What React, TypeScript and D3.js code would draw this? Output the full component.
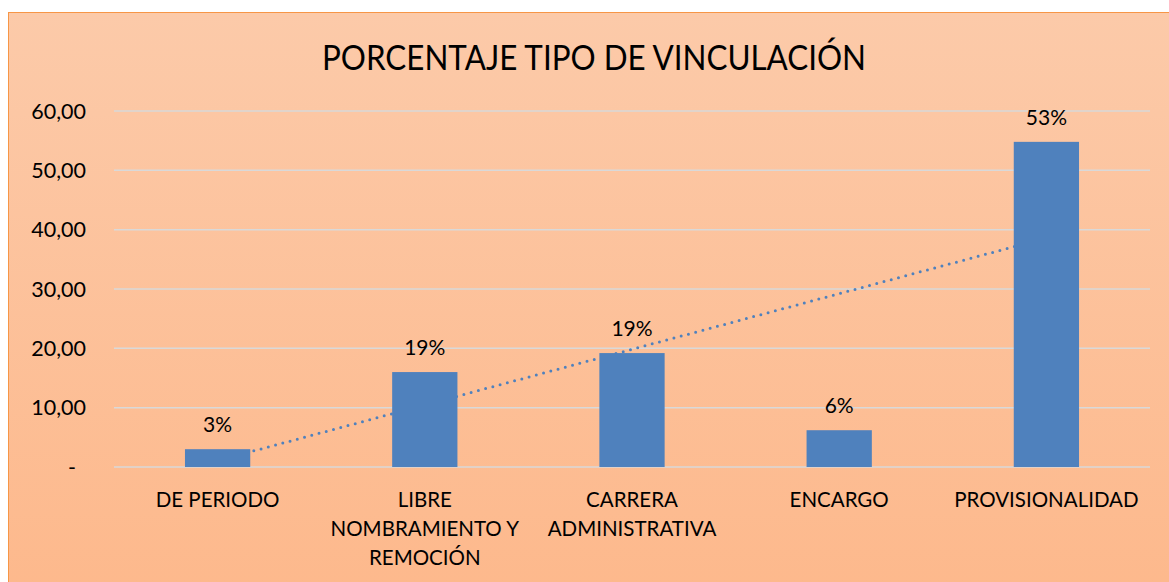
import React from "react";
import * as d3 from "d3";

const categories: string[][] = [
  ["DE PERIODO"],
  ["LIBRE", "NOMBRAMIENTO Y", "REMOCIÓN"],
  ["CARRERA", "ADMINISTRATIVA"],
  ["ENCARGO"],
  ["PROVISIONALIDAD"],
];
const values: number[] = [3.0, 16.0, 19.2, 6.2, 54.8];
const dataLabels: string[] = ["3%", "19%", "19%", "6%", "53%"];
const yTicks: number[] = [0, 10, 20, 30, 40, 50, 60];
const title = "PORCENTAJE TIPO DE VINCULACIÓN";

const W = 1169;
const H = 582;
const FONT = "Lato, 'Open Sans', sans-serif";

export default function App() {
  const plotLeft = 114;
  const plotRight = 1150;
  const y = d3.scaleLinear().domain([0, 60]).range([467, 111]);
  const x = d3
    .scaleBand<number>()
    .domain(values.map((_, i) => i))
    .range([plotLeft, plotRight])
    .paddingInner(0.685)
    .paddingOuter(0.3425);
  const bw = x.bandwidth();
  const cx = (i: number) => (x(i) as number) + bw / 2;

  // linear trendline (least squares) over category index
  const n = values.length;
  const xs = values.map((_, i) => i + 1);
  const mx = d3.mean(xs) as number;
  const my = d3.mean(values) as number;
  const slope =
    d3.sum(xs.map((xi, i) => (xi - mx) * (values[i] - my))) /
    d3.sum(xs.map((xi) => (xi - mx) ** 2));
  const intercept = my - slope * mx;
  const trendPts: [number, number][] = [
    [cx(0), y(intercept + slope * 1)],
    [cx(n - 1), y(intercept + slope * n)],
  ];
  const line = d3.line();

  const fmt = (v: number) => (v === 0 ? "-" : d3.format(".2f")(v).replace(".", ","));

  return (
    <svg
      width={W}
      height={H}
      style={{ position: "absolute", left: 0, top: 0, background: "#fff" }}
    >
      <defs>
        <linearGradient id="bg" x1="0" y1="0" x2="0" y2="1">
          <stop offset="0%" stopColor="#FCCAA9" />
          <stop offset="100%" stopColor="#FDB88B" />
        </linearGradient>
      </defs>
      <rect x={8.5} y={12.5} width={1200} height={600} fill="url(#bg)" stroke="#F79646" strokeWidth={1} />
      <text
        x={594}
        y={70}
        textAnchor="middle"
        fontFamily={FONT}
        fontSize={35}
        fill="#000"
        textLength={544}
        lengthAdjust="spacingAndGlyphs"
      >
        {title}
      </text>
      {yTicks.map((t) => (
        <g key={t}>
          <line x1={plotLeft} x2={plotRight} y1={y(t)} y2={y(t)} stroke="#D9D9D9" strokeWidth={1.5} />
          <text
            x={t === 0 ? 76 : 86}
            y={y(t) + 7.5}
            textAnchor="end"
            fontFamily={FONT}
            fontSize={21.5}
            fill="#000"
          >
            {fmt(t)}
          </text>
        </g>
      ))}
      <path
        d={line(trendPts) as string}
        stroke="#4F81BD"
        strokeWidth={3}
        strokeDasharray="0 7.5"
        strokeLinecap="round"
        fill="none"
      />
      {values.map((v, i) => (
        <g key={i}>
          <rect x={x(i)} y={y(v)} width={bw} height={y(0) - y(v)} fill="#4F81BD" />
          <text
            x={cx(i)}
            y={y(v) - 17}
            textAnchor="middle"
            fontFamily={FONT}
            fontSize={21}
            fill="#000"
          >
            {dataLabels[i]}
          </text>
          {categories[i].map((ln, j) => (
            <text
              key={j}
              x={cx(i)}
              y={507 + j * 29}
              textAnchor="middle"
              fontFamily={FONT}
              fontSize={20.5}
              fill="#000"
            >
              {ln}
            </text>
          ))}
        </g>
      ))}
    </svg>
  );
}
